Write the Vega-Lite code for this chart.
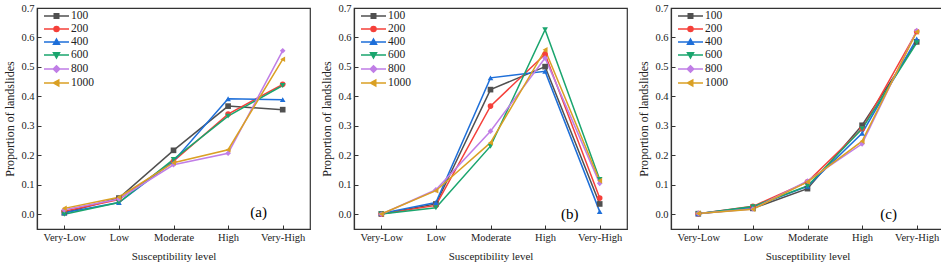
{
  "$schema": "https://vega.github.io/schema/vega-lite/v6.json",
  "padding": {"left": 3, "top": 2, "right": 0, "bottom": 0},
  "spacing": 9,
  "background": "white",
  "datasets": {
    "main": [
      {"panel": "a", "level": "Very-Low", "series": "100", "value": 0.005},
      {"panel": "a", "level": "Very-Low", "series": "200", "value": 0.01},
      {"panel": "a", "level": "Very-Low", "series": "400", "value": 0.005},
      {"panel": "a", "level": "Very-Low", "series": "600", "value": 0.0},
      {"panel": "a", "level": "Very-Low", "series": "800", "value": 0.015},
      {"panel": "a", "level": "Very-Low", "series": "1000", "value": 0.02},
      {"panel": "a", "level": "Low", "series": "100", "value": 0.055},
      {"panel": "a", "level": "Low", "series": "200", "value": 0.05},
      {"panel": "a", "level": "Low", "series": "400", "value": 0.04},
      {"panel": "a", "level": "Low", "series": "600", "value": 0.04},
      {"panel": "a", "level": "Low", "series": "800", "value": 0.052},
      {"panel": "a", "level": "Low", "series": "1000", "value": 0.058},
      {"panel": "a", "level": "Moderate", "series": "100", "value": 0.217},
      {"panel": "a", "level": "Moderate", "series": "200", "value": 0.18},
      {"panel": "a", "level": "Moderate", "series": "400", "value": 0.18},
      {"panel": "a", "level": "Moderate", "series": "600", "value": 0.186},
      {"panel": "a", "level": "Moderate", "series": "800", "value": 0.168},
      {"panel": "a", "level": "Moderate", "series": "1000", "value": 0.175},
      {"panel": "a", "level": "High", "series": "100", "value": 0.367},
      {"panel": "a", "level": "High", "series": "200", "value": 0.34},
      {"panel": "a", "level": "High", "series": "400", "value": 0.392},
      {"panel": "a", "level": "High", "series": "600", "value": 0.333},
      {"panel": "a", "level": "High", "series": "800", "value": 0.207},
      {"panel": "a", "level": "High", "series": "1000", "value": 0.219},
      {"panel": "a", "level": "Very-High", "series": "100", "value": 0.355},
      {"panel": "a", "level": "Very-High", "series": "200", "value": 0.441},
      {"panel": "a", "level": "Very-High", "series": "400", "value": 0.389},
      {"panel": "a", "level": "Very-High", "series": "600", "value": 0.437},
      {"panel": "a", "level": "Very-High", "series": "800", "value": 0.555},
      {"panel": "a", "level": "Very-High", "series": "1000", "value": 0.526},
      {"panel": "b", "level": "Very-Low", "series": "100", "value": 0.001},
      {"panel": "b", "level": "Very-Low", "series": "200", "value": 0.001},
      {"panel": "b", "level": "Very-Low", "series": "400", "value": 0.003},
      {"panel": "b", "level": "Very-Low", "series": "600", "value": 0.001},
      {"panel": "b", "level": "Very-Low", "series": "800", "value": 0.0},
      {"panel": "b", "level": "Very-Low", "series": "1000", "value": 0.001},
      {"panel": "b", "level": "Low", "series": "100", "value": 0.035},
      {"panel": "b", "level": "Low", "series": "200", "value": 0.03},
      {"panel": "b", "level": "Low", "series": "400", "value": 0.04},
      {"panel": "b", "level": "Low", "series": "600", "value": 0.022},
      {"panel": "b", "level": "Low", "series": "800", "value": 0.083},
      {"panel": "b", "level": "Low", "series": "1000", "value": 0.08},
      {"panel": "b", "level": "Moderate", "series": "100", "value": 0.423},
      {"panel": "b", "level": "Moderate", "series": "200", "value": 0.367},
      {"panel": "b", "level": "Moderate", "series": "400", "value": 0.463},
      {"panel": "b", "level": "Moderate", "series": "600", "value": 0.231},
      {"panel": "b", "level": "Moderate", "series": "800", "value": 0.282},
      {"panel": "b", "level": "Moderate", "series": "1000", "value": 0.243},
      {"panel": "b", "level": "High", "series": "100", "value": 0.501},
      {"panel": "b", "level": "High", "series": "200", "value": 0.543},
      {"panel": "b", "level": "High", "series": "400", "value": 0.485},
      {"panel": "b", "level": "High", "series": "600", "value": 0.626},
      {"panel": "b", "level": "High", "series": "800", "value": 0.53},
      {"panel": "b", "level": "High", "series": "1000", "value": 0.558},
      {"panel": "b", "level": "Very-High", "series": "100", "value": 0.035},
      {"panel": "b", "level": "Very-High", "series": "200", "value": 0.055},
      {"panel": "b", "level": "Very-High", "series": "400", "value": 0.009},
      {"panel": "b", "level": "Very-High", "series": "600", "value": 0.118},
      {"panel": "b", "level": "Very-High", "series": "800", "value": 0.105},
      {"panel": "b", "level": "Very-High", "series": "1000", "value": 0.114},
      {"panel": "c", "level": "Very-Low", "series": "100", "value": 0.002},
      {"panel": "c", "level": "Very-Low", "series": "200", "value": 0.002},
      {"panel": "c", "level": "Very-Low", "series": "400", "value": 0.002},
      {"panel": "c", "level": "Very-Low", "series": "600", "value": 0.002},
      {"panel": "c", "level": "Very-Low", "series": "800", "value": 0.003},
      {"panel": "c", "level": "Very-Low", "series": "1000", "value": 0.003},
      {"panel": "c", "level": "Low", "series": "100", "value": 0.02},
      {"panel": "c", "level": "Low", "series": "200", "value": 0.027},
      {"panel": "c", "level": "Low", "series": "400", "value": 0.025},
      {"panel": "c", "level": "Low", "series": "600", "value": 0.026},
      {"panel": "c", "level": "Low", "series": "800", "value": 0.018},
      {"panel": "c", "level": "Low", "series": "1000", "value": 0.017},
      {"panel": "c", "level": "Moderate", "series": "100", "value": 0.087},
      {"panel": "c", "level": "Moderate", "series": "200", "value": 0.11},
      {"panel": "c", "level": "Moderate", "series": "400", "value": 0.095},
      {"panel": "c", "level": "Moderate", "series": "600", "value": 0.096},
      {"panel": "c", "level": "Moderate", "series": "800", "value": 0.113},
      {"panel": "c", "level": "Moderate", "series": "1000", "value": 0.11},
      {"panel": "c", "level": "High", "series": "100", "value": 0.302},
      {"panel": "c", "level": "High", "series": "200", "value": 0.29},
      {"panel": "c", "level": "High", "series": "400", "value": 0.275},
      {"panel": "c", "level": "High", "series": "600", "value": 0.29},
      {"panel": "c", "level": "High", "series": "800", "value": 0.239},
      {"panel": "c", "level": "High", "series": "1000", "value": 0.248},
      {"panel": "c", "level": "Very-High", "series": "100", "value": 0.585},
      {"panel": "c", "level": "Very-High", "series": "200", "value": 0.62},
      {"panel": "c", "level": "Very-High", "series": "400", "value": 0.595},
      {"panel": "c", "level": "Very-High", "series": "600", "value": 0.582},
      {"panel": "c", "level": "Very-High", "series": "800", "value": 0.623},
      {"panel": "c", "level": "Very-High", "series": "1000", "value": 0.619}
    ]
  },
  "hconcat": [
    {
      "width": 273, "height": 221,
      "data": {"name": "main"},
      "transform": [{"filter": "datum.panel == 'a'"}],
      "encoding": {
        "x": {"field": "level", "type": "nominal", "scale": {"type": "point", "padding": 0.5, "domain": ["Very-Low", "Low", "Moderate", "High", "Very-High"]}, "title": "Susceptibility level"},
        "y": {"field": "value", "type": "quantitative", "scale": {"domain": [-0.05, 0.7], "nice": false, "zero": false}, "title": "Proportion of landslides"}
      },
      "resolve": {"scale": {"shape": "independent", "fill": "independent", "stroke": "independent"}, "legend": {"shape": "independent", "fill": "independent", "stroke": "independent"}},
      "layer": [
        {"mark": {"type": "line", "strokeWidth": 1.5},
         "encoding": {"color": {"field": "series", "type": "nominal", "scale": {"domain": ["100", "200", "400", "600", "800", "1000"], "range": ["#505050", "#F5403A", "#1E6FD9", "#1AA56E", "#C07EE6", "#DAA024"]}, "legend": null}}},
        {"mark": {"type": "point", "filled": true, "size": 32, "opacity": 1},
         "encoding": {"color": {"field": "series", "type": "nominal", "scale": {"domain": ["100", "200", "400", "600", "800", "1000"], "range": ["#505050", "#F5403A", "#1E6FD9", "#1AA56E", "#C07EE6", "#DAA024"]}, "legend": null},
                      "shape": {"field": "series", "type": "nominal", "scale": {"domain": ["100", "200", "400", "600", "800", "1000"], "range": ["square", "circle", "triangle-up", "triangle-down", "diamond", "triangle-left"]}, "legend": null}}},
        {"mark": {"type": "point", "filled": true, "opacity": 0},
         "encoding": {"fill": {"field": "series", "type": "nominal", "scale": {"domain": ["100", "200", "400", "600", "800", "1000"], "range": ["#505050", "#F5403A", "#1E6FD9", "#1AA56E", "#C07EE6", "#DAA024"]}, "legend": {"title": null}},
                      "stroke": {"field": "series", "type": "nominal", "scale": {"domain": ["100", "200", "400", "600", "800", "1000"], "range": ["#505050", "#F5403A", "#1E6FD9", "#1AA56E", "#C07EE6", "#DAA024"]}, "legend": {"title": null}},
                      "shape": {"field": "series", "type": "nominal", "scale": {"domain": ["100", "200", "400", "600", "800", "1000"], "range": ["M-0.2,0H4.8M1.85,-0.45H2.75V0.45H1.85Z", "M-0.2,0H4.8M2.8,0A0.5,0.5,0,1,1,1.8,0A0.5,0.5,0,1,1,2.8,0Z", "M-0.2,0H4.8M2.3,-0.6L2.9,0.45L1.7,0.45Z", "M-0.2,0H4.8M2.3,0.6L2.9,-0.45L1.7,-0.45Z", "M-0.2,0H4.8M2.3,-0.65L2.95,0L2.3,0.65L1.65,0Z", "M-0.2,0H4.8M1.7,0L2.75,-0.6L2.75,0.6Z"]}, "legend": {"title": null}}}},
        {"transform": [{"filter": "datum.level == 'Very-High' && datum.series == '100'"}],
         "mark": {"type": "text", "font": "Liberation Serif", "fontSize": 15, "dx": -24, "color": "black"},
         "encoding": {"y": {"datum": 0.007}, "text": {"value": "(a)"}}}
      ]
    },
    {
      "width": 273, "height": 221,
      "data": {"name": "main"},
      "transform": [{"filter": "datum.panel == 'b'"}],
      "encoding": {
        "x": {"field": "level", "type": "nominal", "scale": {"type": "point", "padding": 0.5, "domain": ["Very-Low", "Low", "Moderate", "High", "Very-High"]}, "title": "Susceptibility level"},
        "y": {"field": "value", "type": "quantitative", "scale": {"domain": [-0.05, 0.7], "nice": false, "zero": false}, "title": "Proportion of landslides"}
      },
      "resolve": {"scale": {"shape": "independent", "fill": "independent", "stroke": "independent"}, "legend": {"shape": "independent", "fill": "independent", "stroke": "independent"}},
      "layer": [
        {"mark": {"type": "line", "strokeWidth": 1.5},
         "encoding": {"color": {"field": "series", "type": "nominal", "scale": {"domain": ["100", "200", "400", "600", "800", "1000"], "range": ["#505050", "#F5403A", "#1E6FD9", "#1AA56E", "#C07EE6", "#DAA024"]}, "legend": null}}},
        {"mark": {"type": "point", "filled": true, "size": 32, "opacity": 1},
         "encoding": {"color": {"field": "series", "type": "nominal", "scale": {"domain": ["100", "200", "400", "600", "800", "1000"], "range": ["#505050", "#F5403A", "#1E6FD9", "#1AA56E", "#C07EE6", "#DAA024"]}, "legend": null},
                      "shape": {"field": "series", "type": "nominal", "scale": {"domain": ["100", "200", "400", "600", "800", "1000"], "range": ["square", "circle", "triangle-up", "triangle-down", "diamond", "triangle-left"]}, "legend": null}}},
        {"mark": {"type": "point", "filled": true, "opacity": 0},
         "encoding": {"fill": {"field": "series", "type": "nominal", "scale": {"domain": ["100", "200", "400", "600", "800", "1000"], "range": ["#505050", "#F5403A", "#1E6FD9", "#1AA56E", "#C07EE6", "#DAA024"]}, "legend": {"title": null}},
                      "stroke": {"field": "series", "type": "nominal", "scale": {"domain": ["100", "200", "400", "600", "800", "1000"], "range": ["#505050", "#F5403A", "#1E6FD9", "#1AA56E", "#C07EE6", "#DAA024"]}, "legend": {"title": null}},
                      "shape": {"field": "series", "type": "nominal", "scale": {"domain": ["100", "200", "400", "600", "800", "1000"], "range": ["M-0.2,0H4.8M1.85,-0.45H2.75V0.45H1.85Z", "M-0.2,0H4.8M2.8,0A0.5,0.5,0,1,1,1.8,0A0.5,0.5,0,1,1,2.8,0Z", "M-0.2,0H4.8M2.3,-0.6L2.9,0.45L1.7,0.45Z", "M-0.2,0H4.8M2.3,0.6L2.9,-0.45L1.7,-0.45Z", "M-0.2,0H4.8M2.3,-0.65L2.95,0L2.3,0.65L1.65,0Z", "M-0.2,0H4.8M1.7,0L2.75,-0.6L2.75,0.6Z"]}, "legend": {"title": null}}}},
        {"transform": [{"filter": "datum.level == 'Very-High' && datum.series == '100'"}],
         "mark": {"type": "text", "font": "Liberation Serif", "fontSize": 15, "dx": -30, "color": "black"},
         "encoding": {"y": {"datum": 0.0}, "text": {"value": "(b)"}}}
      ]
    },
    {
      "width": 273, "height": 221,
      "data": {"name": "main"},
      "transform": [{"filter": "datum.panel == 'c'"}],
      "encoding": {
        "x": {"field": "level", "type": "nominal", "scale": {"type": "point", "padding": 0.5, "domain": ["Very-Low", "Low", "Moderate", "High", "Very-High"]}, "title": "Susceptibility level"},
        "y": {"field": "value", "type": "quantitative", "scale": {"domain": [-0.05, 0.7], "nice": false, "zero": false}, "title": "Proportion of landslides"}
      },
      "resolve": {"scale": {"shape": "independent", "fill": "independent", "stroke": "independent"}, "legend": {"shape": "independent", "fill": "independent", "stroke": "independent"}},
      "layer": [
        {"mark": {"type": "line", "strokeWidth": 1.5},
         "encoding": {"color": {"field": "series", "type": "nominal", "scale": {"domain": ["100", "200", "400", "600", "800", "1000"], "range": ["#505050", "#F5403A", "#1E6FD9", "#1AA56E", "#C07EE6", "#DAA024"]}, "legend": null}}},
        {"mark": {"type": "point", "filled": true, "size": 32, "opacity": 1},
         "encoding": {"color": {"field": "series", "type": "nominal", "scale": {"domain": ["100", "200", "400", "600", "800", "1000"], "range": ["#505050", "#F5403A", "#1E6FD9", "#1AA56E", "#C07EE6", "#DAA024"]}, "legend": null},
                      "shape": {"field": "series", "type": "nominal", "scale": {"domain": ["100", "200", "400", "600", "800", "1000"], "range": ["square", "circle", "triangle-up", "triangle-down", "diamond", "triangle-left"]}, "legend": null}}},
        {"mark": {"type": "point", "filled": true, "opacity": 0},
         "encoding": {"fill": {"field": "series", "type": "nominal", "scale": {"domain": ["100", "200", "400", "600", "800", "1000"], "range": ["#505050", "#F5403A", "#1E6FD9", "#1AA56E", "#C07EE6", "#DAA024"]}, "legend": {"title": null}},
                      "stroke": {"field": "series", "type": "nominal", "scale": {"domain": ["100", "200", "400", "600", "800", "1000"], "range": ["#505050", "#F5403A", "#1E6FD9", "#1AA56E", "#C07EE6", "#DAA024"]}, "legend": {"title": null}},
                      "shape": {"field": "series", "type": "nominal", "scale": {"domain": ["100", "200", "400", "600", "800", "1000"], "range": ["M-0.2,0H4.8M1.85,-0.45H2.75V0.45H1.85Z", "M-0.2,0H4.8M2.8,0A0.5,0.5,0,1,1,1.8,0A0.5,0.5,0,1,1,2.8,0Z", "M-0.2,0H4.8M2.3,-0.6L2.9,0.45L1.7,0.45Z", "M-0.2,0H4.8M2.3,0.6L2.9,-0.45L1.7,-0.45Z", "M-0.2,0H4.8M2.3,-0.65L2.95,0L2.3,0.65L1.65,0Z", "M-0.2,0H4.8M1.7,0L2.75,-0.6L2.75,0.6Z"]}, "legend": {"title": null}}}},
        {"transform": [{"filter": "datum.level == 'Very-High' && datum.series == '100'"}],
         "mark": {"type": "text", "font": "Liberation Serif", "fontSize": 15, "dx": -28, "color": "black"},
         "encoding": {"y": {"datum": 0.0}, "text": {"value": "(c)"}}}
      ]
    }
  ],
  "resolve": {"scale": {"color": "independent", "shape": "independent", "fill": "independent", "stroke": "independent"}, "legend": {"color": "independent", "shape": "independent", "fill": "independent", "stroke": "independent"}},
  "config": {
    "view": {"stroke": "#333333", "strokeWidth": 1.2},
    "font": "Liberation Serif",
    "axis": {
      "grid": false,
      "domainColor": "#333333",
      "domainWidth": 1.2,
      "tickColor": "#333333",
      "tickSize": -4,
      "tickWidth": 1,
      "labelFont": "Liberation Serif",
      "labelFontSize": 10.5,
      "labelColor": "#222222",
      "titleFont": "Liberation Serif",
      "titleFontWeight": "normal",
      "titleColor": "#222222"
    },
    "axisX": {"labelAngle": 0, "labelPadding": 7, "titleFontSize": 11, "titlePadding": 8},
    "axisY": {"values": [0, 0.05, 0.1, 0.15, 0.2, 0.25, 0.3, 0.35, 0.4, 0.45, 0.5, 0.55, 0.6, 0.65, 0.7], "labelExpr": "abs(datum.value * 10 - round(datum.value * 10)) < 0.01 ? format(datum.value, '.1f') : ''", "labelPadding": 7, "titleFontSize": 12, "titlePadding": 4},
    "legend": {
      "orient": "top-left",
      "offset": 2,
      "padding": 0,
      "symbolSize": 100,
      "symbolStrokeWidth": 1.5,
      "symbolOpacity": 1,
      "labelFont": "Liberation Serif",
      "labelFontSize": 11.5,
      "labelColor": "#222222",
      "rowPadding": 1,
      "labelOffset": 20
    }
  }
}
